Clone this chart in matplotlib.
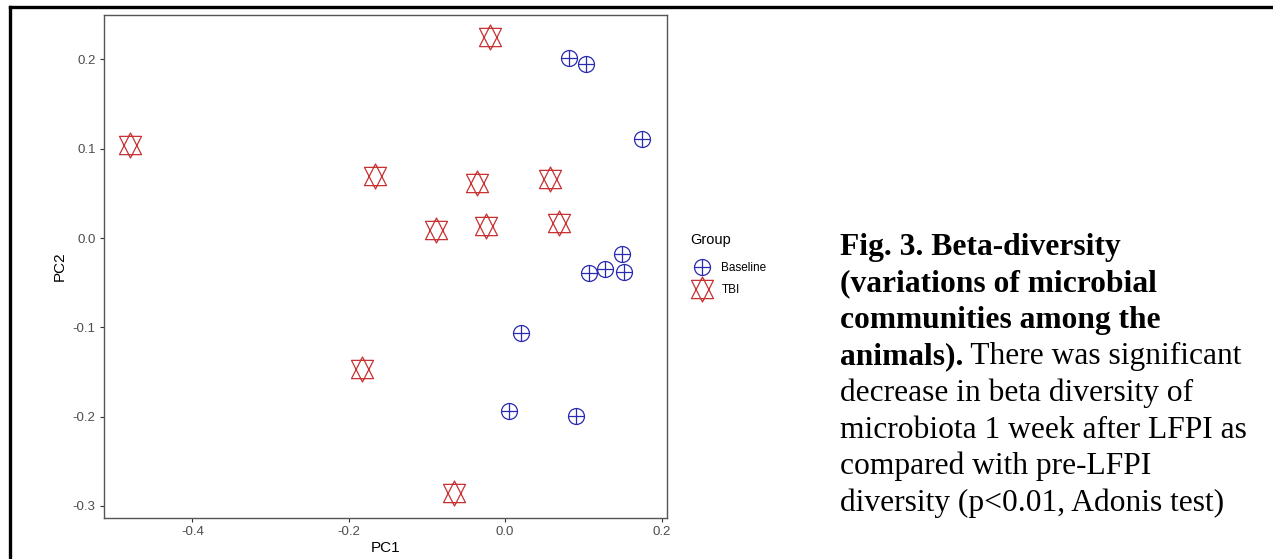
import matplotlib
matplotlib.use('Agg')
import matplotlib.pyplot as plt
from matplotlib.path import Path
from matplotlib.lines import Line2D

# PCoA coordinates
baseline_pc1 = [0.082, 0.104, 0.175, 0.150, 0.107, 0.128, 0.152, 0.020, 0.005, 0.091]
baseline_pc2 = [0.202, 0.195, 0.111, -0.018, -0.039, -0.035, -0.038, -0.106, -0.194, -0.199]
tbi_pc1 = [-0.480, -0.019, -0.166, -0.036, 0.058, -0.088, -0.024, 0.069, -0.183, -0.066]
tbi_pc2 = [0.104, 0.225, 0.069, 0.062, 0.066, 0.009, 0.013, 0.017, -0.147, -0.286]

x_ticks = [-0.4, -0.2, 0.0, 0.2]
y_ticks = [-0.3, -0.2, -0.1, 0.0, 0.1, 0.2]

caption_bold = ["Fig. 3. Beta-diversity", "(variations of microbial",
                "communities among the", "animals)."]
caption_rest = [" There was significant", "decrease in beta diversity of",
                "microbiota 1 week after LFPI as", "compared with pre-LFPI",
                "diversity (p<0.01, Adonis test)"]

BLUE = '#2a2ab0'
RED = '#c83232'

plt.rcParams['font.family'] = ['Liberation Sans', 'DejaVu Sans']


def star_marker():
    # two overlapping triangles (R pch 11)
    w, b = 0.88, 0.73
    verts = [(0, 1), (w, -b), (-w, -b), (0, 1),
             (0, -1), (w, b), (-w, b), (0, -1)]
    codes = [Path.MOVETO, Path.LINETO, Path.LINETO, Path.CLOSEPOLY] * 2
    return Path(verts, codes)


def circle_plus_marker():
    circ = Path.unit_circle()
    h = Path([(-1, 0), (1, 0)], [Path.MOVETO, Path.LINETO])
    v = Path([(0, -1), (0, 1)], [Path.MOVETO, Path.LINETO])
    return Path.make_compound_path(circ, h, v)


fig = plt.figure(figsize=(12.73, 5.59), dpi=100)
ax = fig.add_axes([104 / 1273, 1 - 518 / 559, (667 - 104) / 1273, (518 - 15) / 559])

ax.plot(baseline_pc1, baseline_pc2, linestyle='none', marker=circle_plus_marker(),
        markersize=11.5, markerfacecolor='none', markeredgecolor=BLUE,
        markeredgewidth=0.9, label='Baseline')
ax.plot(tbi_pc1, tbi_pc2, linestyle='none', marker=star_marker(),
        markersize=18, markerfacecolor='none', markeredgecolor=RED,
        markeredgewidth=0.9, label='TBI')

ax.set_xlim(-0.513, 0.207)
ax.set_ylim(-0.3135, 0.2497)
ax.set_xticks(x_ticks)
ax.set_xticklabels([f"{t:.1f}" for t in x_ticks])
ax.set_yticks(y_ticks)
ax.set_yticklabels([f"{t:.1f}" for t in y_ticks])
ax.tick_params(labelsize=9.5, labelcolor='#4d4d4d', color='#333333',
               length=3, width=0.8, pad=3)
for s in ax.spines.values():
    s.set_color('#555555')
    s.set_linewidth(1.0)
ax.set_xlabel('PC1', fontsize=11, labelpad=2)
ax.set_ylabel('PC2', fontsize=11, labelpad=4)

# legend: title as its own text, entries below it
fig.text(690 / 1273, 1 - 240 / 559, 'Group', fontsize=10.5, va='center', ha='left')
leg = ax.legend(loc='upper left', frameon=False,
                bbox_to_anchor=(686 / 1273, 1 - 254 / 559),
                bbox_transform=fig.transFigure, fontsize=8.5,
                handletextpad=1.0, labelspacing=0.8, handlelength=1.3,
                borderpad=0.2)

# caption on the right
x0 = 840 / 1273
line_y = [247 + 36.6 * i for i in range(8)]
serif = ['Liberation Serif', 'DejaVu Serif']
texts = caption_bold + caption_rest[1:]
for i, y in enumerate(line_y):
    bold = i < 4
    t = fig.text(x0, 1 - y / 559, texts[i], fontsize=22.7, family=serif,
                 fontweight='bold' if bold else 'normal', va='center', ha='left')
    if i == 3:
        fig.canvas.draw()
        bb = t.get_window_extent()
        fig.text(bb.x1 / fig.bbox.width, 1 - y / 559, caption_rest[0],
                 fontsize=22.7, family=serif, va='center', ha='left')

# outer frame (top and left edges visible)
fig.add_artist(Line2D([10 / 1273, 10 / 1273], [0, 1 - 7 / 559], color='black', lw=2.4))
fig.add_artist(Line2D([10 / 1273, 1], [1 - 7 / 559, 1 - 7 / 559], color='black', lw=2.4))

fig.savefig('out.png', dpi=100)
